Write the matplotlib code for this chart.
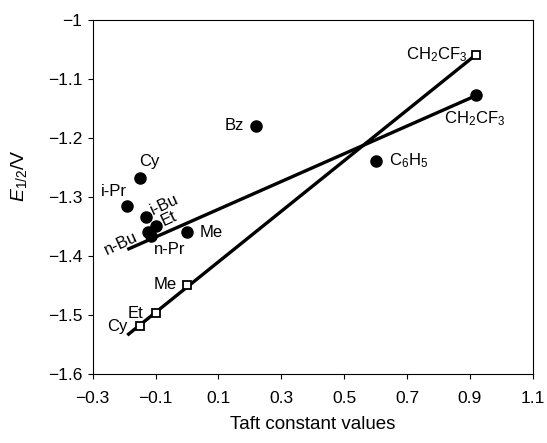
import numpy as np
import matplotlib
matplotlib.use("Agg")
import matplotlib.pyplot as plt

plt.rcParams['font.family'] = ['Liberation Sans', 'DejaVu Sans']
plt.rcParams['mathtext.fontset'] = 'custom'
plt.rcParams['mathtext.rm'] = 'Liberation Sans'
plt.rcParams['mathtext.it'] = 'Liberation Sans:italic'

# filled circles
circ_names = ["Cy", "i-Pr", "i-Bu", "Et", "n-Bu", "n-Pr", "Me", "Bz", "C$_6$H$_5$", "CH$_2$CF$_3$"]
circ_x = [-0.15, -0.19, -0.13, -0.10, -0.125, -0.115, 0.0, 0.22, 0.60, 0.92]
circ_y = [-1.268, -1.315, -1.334, -1.350, -1.360, -1.366, -1.360, -1.179, -1.239, -1.128]

# open squares
sq_names = ["Cy", "Et", "Me", "CH$_2$CF$_3$"]
sq_x = [-0.15, -0.10, 0.0, 0.92]
sq_y = [-1.519, -1.497, -1.449, -1.059]

# fitted lines (endpoints)
fit_x = [-0.19, 0.92]
fit_circ_y = [-1.389, -1.128]

xticks = [-0.3, -0.1, 0.1, 0.3, 0.5, 0.7, 0.9, 1.1]
xticklabels = ["\u22120.3", "\u22120.1", "0.1", "0.3", "0.5", "0.7", "0.9", "1.1"]
yticks = [-1.0, -1.1, -1.2, -1.3, -1.4, -1.5, -1.6]
yticklabels = ["\u22121", "\u22121.1", "\u22121.2", "\u22121.3", "\u22121.4", "\u22121.5", "\u22121.6"]

fig = plt.figure(figsize=(5.47, 4.43), dpi=100)
ax = fig.add_axes([0.1695, 0.1558, 0.8045, 0.7991])

# lines
ax.plot(fit_x, fit_circ_y, color="black", lw=2.4, solid_capstyle="butt", zorder=2)
coef = np.polyfit(sq_x, sq_y, 1)
ax.plot(fit_x, np.polyval(coef, fit_x), color="black", lw=2.4, solid_capstyle="butt", zorder=2)

ax.plot(circ_x, circ_y, "o", ms=8, color="black", zorder=3)
ax.plot(sq_x, sq_y, "s", ms=6.3, mfc="white", mec="black", mew=1.3, zorder=3)

fs = 12
# label placement: (dx, dy in points, ha, rotation)
circ_lab = [(7, 12, "center", 0), (-10, 10.5, "center", 0), (13, 9, "center", 25),
            (9.6, 5.5, "center", 25), (-19, -8, "center", 25), (13.7, -9.5, "center", 0),
            (9, 0, "left", 0), (-9, 0, "right", 0), (9.8, 0, "left", 0),
            (-1, -17, "center", 0)]
for name, x, y, (dx, dy, ha, rot) in zip(circ_names, circ_x, circ_y, circ_lab):
    ax.annotate(name, (x, y), xytext=(dx, dy), textcoords="offset points",
                ha=ha, va="center", rotation=rot, fontsize=fs)

sq_lab = [(-9.1, 0), (-8.6, 0), (-7.6, 0), (-6.7, 0)]
for name, x, y, (dx, dy) in zip(sq_names, sq_x, sq_y, sq_lab):
    ax.annotate(name, (x, y), xytext=(dx, dy), textcoords="offset points",
                ha="right", va="center", fontsize=fs)

ax.set_xlim(-0.3, 1.1)
ax.set_ylim(-1.6, -1.0)
ax.set_xticks(xticks)
ax.set_xticklabels(xticklabels, fontsize=12.5)
ax.set_yticks(yticks)
ax.set_yticklabels(yticklabels, fontsize=12.5)
ax.tick_params(direction="out", length=3.5, width=0.8)
ax.tick_params(axis="x", pad=9)
ax.tick_params(axis="y", pad=4)
ax.set_xlabel("Taft constant values", fontsize=13.5, labelpad=7)
ax.set_ylabel(r"$\mathit{E}_{\mathrm{1/2}}$/V", fontsize=14)
ax.yaxis.set_label_coords(-0.145, 0.56)
for s in ax.spines.values():
    s.set_linewidth(0.8)

fig.savefig("out.png", dpi=100)
